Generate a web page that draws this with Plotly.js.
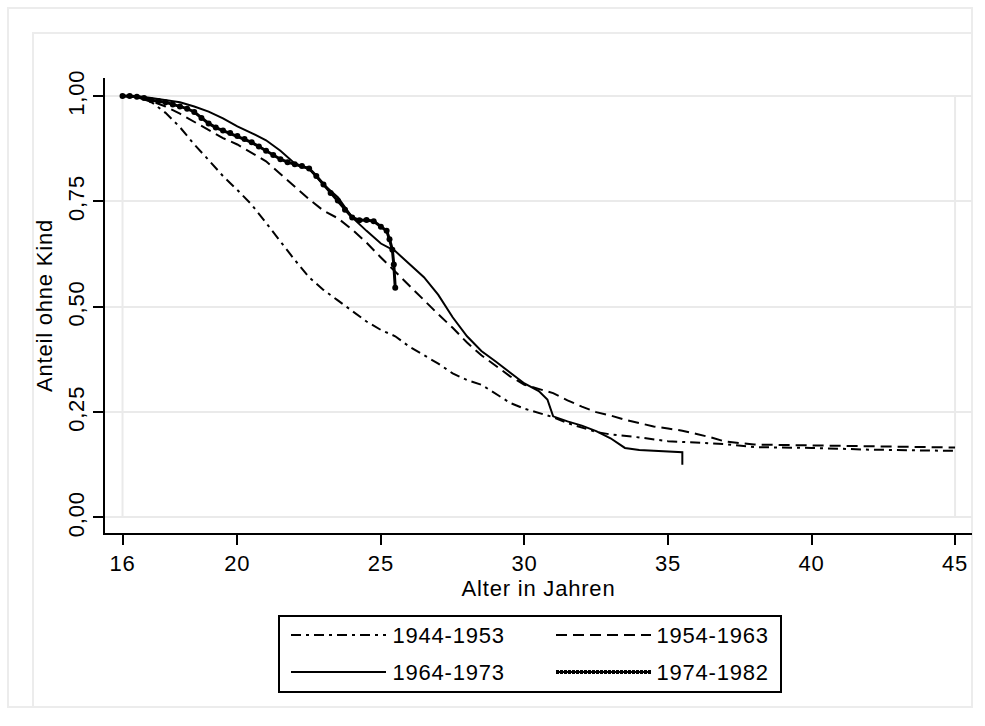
<!DOCTYPE html>
<html>
<head>
<meta charset="utf-8">
<script src="https://cdn.plot.ly/plotly-3.0.1.min.js"></script>
<style>
  html, body { margin: 0; padding: 0; background: #ffffff; }
  #chart { width: 985px; height: 726px; }
  .main-svg text { letter-spacing: 0.8px; }
</style>
</head>
<body>
<div id="chart"></div>
<script>
// ---------------- data ----------------
const cohorts = ['1944-1953', '1954-1963', '1964-1973', '1974-1982'];

const age1944 = [16, 16.5, 17, 17.5, 18, 18.5, 19, 19.5, 20, 20.5, 21, 21.5, 22, 22.5, 23, 23.5, 24, 24.5, 25, 25.5, 26, 26.5, 27, 27.5, 28, 28.5, 29, 29.5, 30, 30.5, 31, 31.5, 32, 32.5, 33, 34, 35, 36, 37, 38, 40, 42, 45];
const surv1944 = [1.0, 0.998, 0.986, 0.96, 0.926, 0.885, 0.848, 0.81, 0.777, 0.742, 0.699, 0.655, 0.611, 0.57, 0.54, 0.515, 0.49, 0.465, 0.445, 0.43, 0.405, 0.385, 0.365, 0.342, 0.326, 0.315, 0.294, 0.272, 0.258, 0.248, 0.238, 0.224, 0.213, 0.203, 0.197, 0.19, 0.181, 0.178, 0.174, 0.167, 0.165, 0.161, 0.158];

const age1954 = [16, 16.5, 17, 17.5, 18, 18.5, 19, 19.5, 20, 20.5, 21, 21.5, 22, 22.5, 23, 23.5, 24, 24.5, 25, 25.5, 26, 26.5, 27, 27.5, 28, 28.5, 29, 29.5, 30, 30.5, 31, 31.5, 32, 32.5, 33, 33.5, 34, 34.5, 35, 35.5, 36, 36.5, 37, 37.5, 38, 40, 42, 45];
const surv1954 = [1.0, 0.997, 0.988, 0.975, 0.958, 0.938, 0.918, 0.9, 0.885, 0.866, 0.845, 0.815, 0.785, 0.755, 0.728, 0.71, 0.683, 0.652, 0.617, 0.583, 0.55, 0.515, 0.482, 0.45, 0.415, 0.385, 0.36, 0.335, 0.315, 0.305, 0.295, 0.278, 0.263, 0.25, 0.242, 0.232, 0.224, 0.216, 0.211, 0.206, 0.198, 0.19, 0.18, 0.176, 0.173, 0.171, 0.169, 0.166];

const age1964 = [16, 16.5, 17, 17.5, 18, 18.5, 19, 19.5, 20, 20.5, 21, 21.5, 22, 22.5, 23, 23.5, 24, 24.5, 25, 25.5, 26, 26.5, 27, 27.5, 28, 28.5, 29, 29.5, 30, 30.5, 30.8, 31, 31.5, 32, 32.5, 33, 33.5, 34, 35, 35.5, 35.5];
const surv1964 = [1.0, 1.0, 0.995, 0.99, 0.985, 0.975, 0.963, 0.947, 0.928, 0.912, 0.895, 0.87, 0.84, 0.828, 0.79, 0.76, 0.712, 0.68, 0.65, 0.632, 0.6, 0.57, 0.528, 0.475, 0.43, 0.395, 0.37, 0.345, 0.318, 0.3, 0.28, 0.24, 0.228, 0.218, 0.205, 0.188, 0.165, 0.16, 0.157, 0.155, 0.125];

const age1974 = [16, 16.25, 16.5, 16.75, 17, 17.25, 17.5, 17.75, 18, 18.25, 18.5, 18.75, 19, 19.25, 19.5, 19.75, 20, 20.25, 20.5, 20.75, 21, 21.25, 21.5, 21.75, 22, 22.25, 22.5, 22.75, 23, 23.25, 23.5, 23.75, 24, 24.25, 24.5, 24.75, 25, 25.2, 25.3, 25.4, 25.45, 25.5];
const surv1974 = [1.0, 1.0, 0.998, 0.995, 0.99, 0.988, 0.985, 0.98, 0.975, 0.97, 0.962, 0.948, 0.935, 0.925, 0.918, 0.912, 0.905, 0.898, 0.89, 0.88, 0.87, 0.86, 0.85, 0.843, 0.838, 0.834, 0.828, 0.81, 0.79, 0.77, 0.752, 0.73, 0.712, 0.705, 0.706, 0.703, 0.69, 0.68, 0.66, 0.635, 0.6, 0.545];

const xTickVals = [16, 20, 25, 30, 35, 40, 45];
const yTickVals = [0, 0.25, 0.5, 0.75, 1];
const yTickText = ['0,00', '0,25', '0,50', '0,75', '1,00'];
const xTitle = 'Alter in Jahren';
const yTitle = 'Anteil ohne Kind';

// ---------------- styles ----------------
const FONT = '"Liberation Sans", Arial, sans-serif';
const FS = 22;
const W = 985, H = 726;
const M = {l: 105, r: 13, t: 78, b: 193};
const PW = W - M.l - M.r, PH = H - M.t - M.b;
const px = x => (x - M.l) / PW;           // pixel -> paper x
const py = y => (H - M.b - y) / PH;       // pixel -> paper y

const dashes = ['10px,5px,3px,5px', '11px,6px', 'solid', 'solid'];

const series = [
  {x: age1944, y: surv1944},
  {x: age1954, y: surv1954},
  {x: age1964, y: surv1964},
  {x: age1974, y: surv1974}
];

const traces = series.map((s, i) => ({
  x: s.x, y: s.y, name: cohorts[i], type: 'scatter',
  mode: i === 3 ? 'lines+markers' : 'lines',
  line: {color: '#000000', width: i === 3 ? 3 : 2, dash: dashes[i]},
  marker: {color: '#000000', size: 6},
  showlegend: false, hoverinfo: 'skip'
}));

const shapes = [];
// graph frames
shapes.push({type: 'rect', xref: 'paper', yref: 'paper', x0: px(8), x1: px(972), y0: py(8), y1: py(707), line: {color: '#ececec', width: 2}, layer: 'below'});
shapes.push({type: 'rect', xref: 'paper', yref: 'paper', x0: px(33), x1: px(972), y0: py(33), y1: py(707), line: {color: '#ececec', width: 2}, layer: 'below'});
// vertical lines at axis range ends
[xTickVals[0], xTickVals[xTickVals.length - 1]].forEach(v => {
  shapes.push({type: 'line', xref: 'x', yref: 'y', x0: v, x1: v, y0: yTickVals[0], y1: yTickVals[yTickVals.length - 1], line: {color: '#eaeaea', width: 2}, layer: 'below'});
});

// legend (drawn manually to match long line samples)
const LB = {x0: 279, x1: 781, y0: 616, y1: 692};
shapes.push({type: 'rect', xref: 'paper', yref: 'paper', x0: px(LB.x0), x1: px(LB.x1), y0: py(LB.y0), y1: py(LB.y1), line: {color: '#000000', width: 2}, fillcolor: '#ffffff'});
const legPos = [
  {sx: 291, tx: 394, y: 635},
  {sx: 556, tx: 658, y: 635},
  {sx: 291, tx: 394, y: 672},
  {sx: 556, tx: 658, y: 672}
];
const annotations = [];
legPos.forEach((p, i) => {
  if (i === 3) {
    shapes.push({type: 'line', xref: 'paper', yref: 'paper', x0: px(p.sx), x1: px(p.sx + 95), y0: py(p.y), y1: py(p.y), line: {color: '#000000', width: 2}});
    shapes.push({type: 'line', xref: 'paper', yref: 'paper', x0: px(p.sx), x1: px(p.sx + 95), y0: py(p.y), y1: py(p.y), line: {color: '#000000', width: 4, dash: '3px,1px'}});
  } else {
    shapes.push({type: 'line', xref: 'paper', yref: 'paper', x0: px(p.sx), x1: px(p.sx + 95), y0: py(p.y), y1: py(p.y), line: {color: '#000000', width: 2, dash: dashes[i]}});
  }
  annotations.push({xref: 'paper', yref: 'paper', x: px(p.tx), y: py(p.y), xanchor: 'left', yanchor: 'middle', showarrow: false, text: cohorts[i], font: {family: FONT, size: FS, color: '#000000'}});
});

const layout = {
  width: W, height: H, autosize: false,
  margin: M,
  paper_bgcolor: '#ffffff', plot_bgcolor: '#ffffff',
  font: {family: FONT, size: FS, color: '#000000'},
  showlegend: false,
  xaxis: {
    range: [15.39, 45.59], tickvals: xTickVals, ticktext: xTickVals.map(String),
    showgrid: false, zeroline: false, showline: true, linecolor: '#000000', linewidth: 2,
    ticks: 'outside', ticklen: 10, tickwidth: 2, tickcolor: '#000000',
    tickfont: {family: FONT, size: FS, color: '#000000'},
    title: {text: xTitle, font: {family: FONT, size: FS, color: '#000000'}, standoff: 2},
    automargin: false
  },
  yaxis: {
    range: [-0.0368, 1.0427], tickvals: yTickVals, ticktext: yTickText, tickangle: -90,
    showgrid: true, gridcolor: '#eaeaea', gridwidth: 2, zeroline: false,
    showline: true, linecolor: '#000000', linewidth: 2,
    ticks: 'outside', ticklen: 10, tickwidth: 2, tickcolor: '#000000',
    tickfont: {family: FONT, size: FS, color: '#000000'},
    title: {text: yTitle, font: {family: FONT, size: FS, color: '#000000'}, standoff: 6},
    automargin: false
  },
  shapes: shapes,
  annotations: annotations
};

Plotly.newPlot('chart', traces, layout, {displayModeBar: false, staticPlot: true});
</script>
</body>
</html>
